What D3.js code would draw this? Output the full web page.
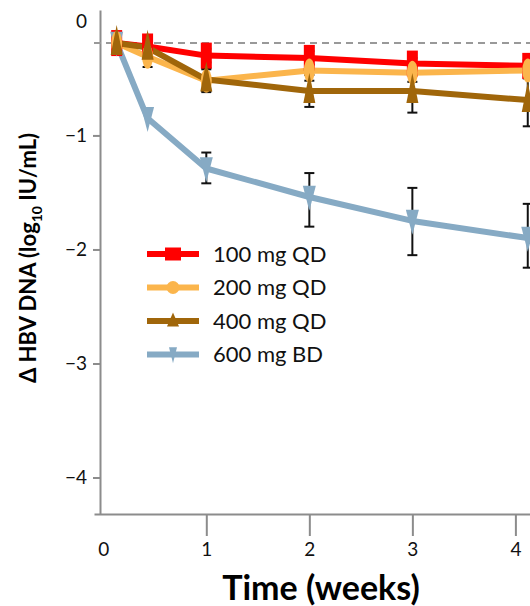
<!DOCTYPE html>
<html>
<head>
<meta charset="utf-8">
<script src="https://cdn.jsdelivr.net/npm/d3@7"></script>
<style>
  body { margin: 0; background: #fff; }
  svg { display: block; font-family: Lato, 'Open Sans', sans-serif; }
  .eje path, .eje line { stroke: #8c8c8c; stroke-width: 2px; }
  .eje text { font-size: 19px; fill: #111; font-family: Lato, sans-serif; }
</style>
</head>
<body>
<div id="graf"></div>
<script>
// I. Datos
semanas = [0.13, 0.43, 1, 2, 3, 4.12]
series = ['100 mg QD', '200 mg QD', '400 mg QD', '600 mg BD']

r100 = [-0.19, -0.22, -0.30, -0.32, -0.37, -0.39]
r200 = [-0.19, -0.31, -0.52, -0.43, -0.45, -0.43]
r400 = [-0.19, -0.23, -0.51, -0.61, -0.61, -0.69]
r600 = [-0.19, -0.85, -1.29, -1.54, -1.75, -1.90]

// barras de error [bajo, alto]
e100 = [null, null, [-0.36, -0.24], [-0.38, -0.26], [-0.42, -0.32], [-0.44, -0.34]]
e200 = [null, [-0.40, -0.22], [-0.62, -0.42], [-0.52, -0.34], [-0.53, -0.37], [-0.50, -0.36]]
e400 = [null, [-0.30, -0.16], [-0.61, -0.41], [-0.75, -0.47], [-0.80, -0.42], [-0.92, -0.46]]
e600 = [null, null, [-1.42, -1.15], [-1.80, -1.33], [-2.05, -1.46], [-2.16, -1.60]]

xTicks = [0, 1, 2, 3, 4]
yTicks = [0, -1, -2, -3, -4]
linea_base = -0.19

// II. Configuracion
ancho_total = 530
alto_total = 606

svg = d3.select('#graf').append('svg')
        .attr('width', ancho_total)
        .attr('height', alto_total)

x = d3.scaleLinear().domain([-0.09, 4.2]).range([94, 536])
y = d3.scaleLinear().domain([0.1, -4.32]).range([10, 514])

color = d3.scaleOrdinal()
        .domain(series)
        .range(['#ff0000', '#fbb54c', '#a0660a', '#86aac4'])

valores = [r100, r200, r400, r600]
errores = [e100, e200, e400, e600]

datos = series.map((s, i) => ({
    serie: s,
    puntos: semanas.map((t, j) => ({ t: t, v: valores[i][j], e: errores[i][j] }))
}))

// III. Ejes
xAxisGroup = svg.append('g')
        .attr('class', 'eje')
        .attr('transform', `translate(0, ${ y(-4.32) })`)
        .call(d3.axisBottom(x).tickValues(xTicks).tickSize(22).tickSizeOuter(0).tickPadding(7)
              .tickFormat(d3.format('d')))
xAxisGroup.selectAll('.tick').filter(d => d === 0).select('line').remove()

yAxisGroup = svg.append('g')
        .attr('class', 'eje')
        .attr('transform', 'translate(100, 0)')
        .call(d3.axisLeft(y).tickValues(yTicks).tickSize(7).tickSizeOuter(0).tickPadding(6)
              .tickFormat(d => d === 0 ? '0' : '\u2212' + Math.abs(d)))
yAxisGroup.selectAll('.tick').filter(d => d === 0).select('line').remove()

// linea de referencia
svg.append('line')
    .attr('x1', 94).attr('x2', ancho_total)
    .attr('y1', y(linea_base)).attr('y2', y(linea_base))
    .attr('stroke', '#999').attr('stroke-width', 2)
    .attr('stroke-dasharray', '7,5')

// IV. Render
g = svg.append('g')

// barras de error
datos.forEach(d => {
    d.puntos.filter(p => p.e).forEach(p => {
        px = x(p.t)
        g.append('line')
            .attr('x1', px).attr('x2', px)
            .attr('y1', y(p.e[0])).attr('y2', y(p.e[1]))
            .attr('stroke', '#111').attr('stroke-width', 2)
        p.e.forEach(v => {
            g.append('line')
                .attr('x1', px - 5).attr('x2', px + 5)
                .attr('y1', y(v)).attr('y2', y(v))
                .attr('stroke', '#111').attr('stroke-width', 2)
        })
    })
})

linea = d3.line().x(p => x(p.t)).y(p => y(p.v))
orden = [0, 3, 1, 2]

function marcador(sel, serie, w, h) {
    if (serie === '100 mg QD') {
        sel.append('rect').attr('x', -w / 2).attr('y', -h / 2).attr('width', w).attr('height', h)
    } else if (serie === '200 mg QD') {
        sel.append('ellipse').attr('rx', w / 2).attr('ry', h / 2)
    } else if (serie === '400 mg QD') {
        sel.append('path').attr('d', `M0,${ -h * 0.6 }L${ w / 2 },${ h * 0.4 }L${ -w / 2 },${ h * 0.4 }Z`)
    } else {
        sel.append('path').attr('d', `M${ -w / 2 },${ -h * 0.45 }L${ w / 2 },${ -h * 0.45 }L0,${ h * 0.55 }Z`)
    }
}

tam = { '100 mg QD': [11, 26], '200 mg QD': [11, 24], '400 mg QD': [12, 30], '600 mg BD': [13, 25] }

orden.forEach(i => {
    d = datos[i]
    g.append('path')
        .attr('d', linea(d.puntos))
        .attr('fill', 'none')
        .attr('stroke', color(d.serie))
        .attr('stroke-width', 6)
        .attr('stroke-linejoin', 'round')
})

orden.forEach(i => {
    d = datos[i]
    d.puntos.forEach(p => {
        m = g.append('g')
            .attr('transform', `translate(${ x(p.t) }, ${ y(p.v) })`)
            .attr('fill', color(d.serie))
        marcador(m, d.serie, tam[d.serie][0], tam[d.serie][1])
    })
})

// leyenda
leyenda = svg.append('g').attr('transform', 'translate(147, 254)')
series.forEach((s, i) => {
    fila = leyenda.append('g').attr('transform', `translate(0, ${ i * 33.5 })`)
    fila.append('line')
        .attr('x1', 0).attr('x2', 52)
        .attr('stroke', color(s)).attr('stroke-width', 6)
    mk = fila.append('g').attr('transform', 'translate(26, 0)').attr('fill', color(s))
    if (i === 0) marcador(mk, s, 16, 13)
    else if (i === 1) marcador(mk, s, 13, 13)
    else if (i === 2) marcador(mk, s, 12, 14)
    else marcador(mk, s, 8, 16)
    fila.append('text')
        .attr('x', 66).attr('y', 0).attr('dy', '0.36em')
        .style('font-size', '22px').style('fill', '#111')
        .text(s)
})

// titulos
svg.append('text')
    .attr('x', 321).attr('y', 600)
    .attr('text-anchor', 'middle')
    .style('font-size', '34px').style('font-weight', 'bold')
    .text('Time (weeks)')

ty = svg.append('text')
    .attr('transform', 'translate(36, 258) rotate(-90)')
    .attr('text-anchor', 'middle')
    .style('font-size', '22px').style('font-weight', 'bold')
ty.append('tspan').text('\u0394 HBV DNA (log')
ty.append('tspan').attr('dy', 6).style('font-size', '14px').text('10')
ty.append('tspan').attr('dy', -6).text(' IU/mL)')
</script>
</body>
</html>
